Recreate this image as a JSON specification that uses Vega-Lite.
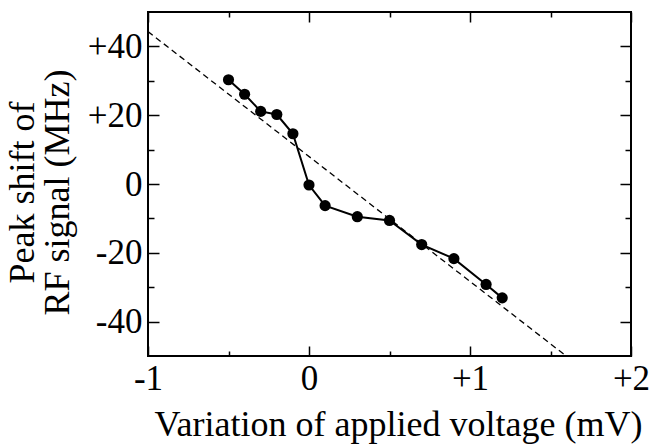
{
  "$schema": "https://vega.github.io/schema/vega-lite/v6.json",
  "autosize": "none",
  "width": 483,
  "height": 344,
  "padding": {"left": 148, "top": 12, "right": 22, "bottom": 89},
  "background": "white",
  "config": {
    "view": {"stroke": "black", "strokeWidth": 2},
    "axis": {
      "domain": false,
      "grid": false,
      "tickColor": "black",
      "tickWidth": 1.5,
      "labelFont": "Liberation Serif",
      "labelFontSize": 35,
      "labelColor": "black",
      "titleFont": "Liberation Serif",
      "titleFontSize": 36,
      "titleFontWeight": "normal",
      "titleColor": "black"
    }
  },
  "datasets": {
    "meas": [
      {"x": -0.5, "y": 30.3},
      {"x": -0.4, "y": 26.1},
      {"x": -0.3, "y": 21.1},
      {"x": -0.2, "y": 20.2},
      {"x": -0.1, "y": 14.6},
      {"x": 0.0, "y": -0.3},
      {"x": 0.1, "y": -6.3},
      {"x": 0.3, "y": -9.5},
      {"x": 0.5, "y": -10.6},
      {"x": 0.7, "y": -17.6},
      {"x": 0.9, "y": -21.7},
      {"x": 1.1, "y": -29.2},
      {"x": 1.2, "y": -33.1}
    ],
    "fit": [
      {"x": -1.0, "y": 44.3},
      {"x": 1.6, "y": -50.1}
    ]
  },
  "resolve": {"axis": {"x": "independent", "y": "independent"}},
  "layer": [
    {
      "data": {"name": "fit"},
      "mark": {"type": "line", "color": "black", "strokeWidth": 1.3, "strokeDash": [6, 4], "clip": true},
      "encoding": {
        "x": {
          "field": "x", "type": "quantitative",
          "scale": {"domain": [-1, 2], "nice": false, "zero": false},
          "axis": {
            "orient": "bottom", "values": [-1, 0, 1, 2], "tickSize": -10,
            "labelExpr": "datum.value > 0 ? '+' + datum.value : '' + datum.value",
            "labelFont": "Liberation Serif", "labelFontSize": 35,
            "labelBaseline": "alphabetic", "labelPadding": 43, "labelFlush": false,
            "title": "Variation of applied voltage (mV)",
            "titleBaseline": "alphabetic", "titleY": 79, "titleX": 250, "titleAlign": "center"
          }
        },
        "y": {
          "field": "y", "type": "quantitative",
          "scale": {"domain": [-50, 50], "nice": false, "zero": false},
          "axis": {
            "orient": "left", "values": [-40, -20, 0, 20, 40], "tickSize": -11,
            "labelExpr": "datum.value > 0 ? '+' + datum.value : '' + datum.value",
            "labelFont": "Liberation Serif", "labelFontSize": 35,
            "labelPadding": 17, "labelFlush": false,
            "title": ["Peak shift of", "RF signal (MHz)"],
            "titleBaseline": "alphabetic", "titleAngle": -90, "titleX": -115, "titleY": 180,
            "titleAlign": "center", "titleLineHeight": 35
          }
        }
      }
    },
    {
      "data": {"name": "meas"},
      "mark": {"type": "line", "color": "black", "strokeWidth": 2},
      "encoding": {
        "x": {
          "field": "x", "type": "quantitative",
          "axis": {"orient": "bottom", "values": [-0.5, 0.5, 1.5], "tickSize": -5, "labels": false, "title": null}
        },
        "y": {
          "field": "y", "type": "quantitative",
          "axis": {"orient": "left", "values": [-30, -10, 10, 30], "tickSize": -6, "labels": false, "title": null}
        }
      }
    },
    {
      "data": {"name": "meas"},
      "mark": {"type": "point", "filled": true, "color": "black", "opacity": 1, "size": 125},
      "encoding": {
        "x": {
          "field": "x", "type": "quantitative",
          "axis": {"orient": "top", "values": [-1, 0, 1, 2], "tickSize": -10, "labels": false, "title": null}
        },
        "y": {
          "field": "y", "type": "quantitative",
          "axis": {"orient": "right", "values": [-40, -20, 0, 20, 40], "tickSize": -11, "labels": false, "title": null}
        }
      }
    },
    {
      "data": {"name": "fit"},
      "mark": {"type": "point", "opacity": 0},
      "encoding": {
        "x": {
          "field": "x", "type": "quantitative",
          "axis": {"orient": "top", "values": [-0.5, 0.5, 1.5], "tickSize": -5, "labels": false, "title": null}
        },
        "y": {
          "field": "y", "type": "quantitative",
          "axis": {"orient": "right", "values": [-30, -10, 10, 30], "tickSize": -6, "labels": false, "title": null}
        }
      }
    }
  ]
}
